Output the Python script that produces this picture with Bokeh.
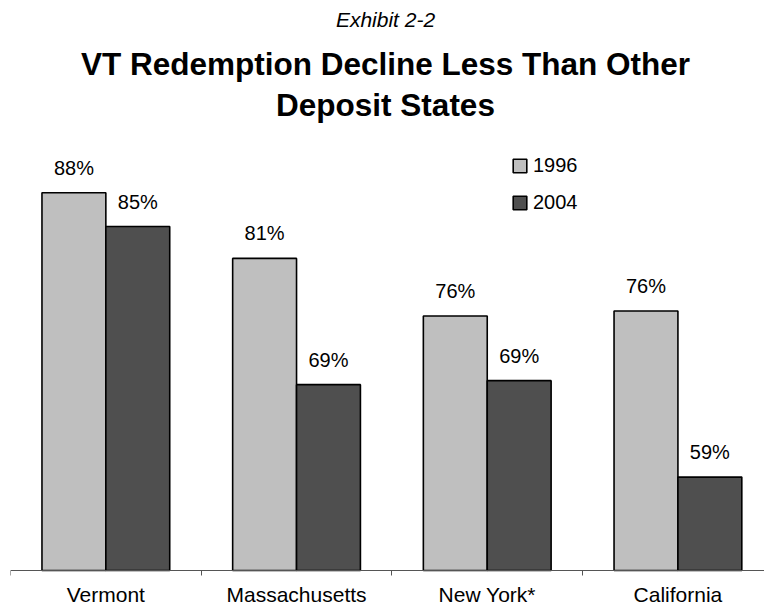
import numpy as np
from bokeh.plotting import figure
from bokeh.models import Range1d, FixedTicker, Label, Legend, LegendItem, ColumnDataSource
from bokeh.transform import dodge
from bokeh.embed import file_html
from bokeh.resources import INLINE
from bokeh.core.properties import value

# ---- data ----
exhibit_label = "Exhibit 2-2"
title_lines = ["VT Redemption Decline Less Than Other", "Deposit States"]
categories = ["Vermont", "Massachusetts", "New York*", "California"]
series_names = ["1996", "2004"]
values_1996 = [88.0, 81.4, 75.6, 76.1]
values_2004 = [84.6, 68.7, 69.1, 59.4]
labels_1996 = ["88%", "81%", "76%", "76%"]
labels_2004 = ["85%", "69%", "69%", "59%"]
axis_min = 50

# ---- styles ----
FONT = "Liberation Sans"
LIGHT = "#bfbfbf"
DARK = "#4f4f4f"
BAR_W = 0.335
OFF = 0.1675

idx = np.arange(len(categories))
src = ColumnDataSource(dict(
    x=idx, cat=categories,
    v1996=values_1996, v2004=values_2004,
    l1996=labels_1996, l2004=labels_2004,
))

W, H = 764, 609
p = figure(width=W, height=H, output_backend="svg", toolbar_location=None, title=None,
           x_range=Range1d(-0.5, 3.454), y_range=Range1d(46.08, 107.34),
           min_border_left=10, min_border_right=0, min_border_top=0, min_border_bottom=0)
p.outline_line_color = None
p.grid.visible = False
p.yaxis.visible = False
p.background_fill_color = "white"
p.border_fill_color = "white"

ax = p.xaxis[0]
ax.fixed_location = axis_min
ax.ticker = FixedTicker(ticks=[], minor_ticks=list(np.arange(-0.5, len(categories) + 0.5, 1.0)))
ax.major_tick_out = 0
ax.major_tick_in = 0
ax.minor_tick_out = 5
ax.minor_tick_in = 0
ax.axis_line_color = "#555555"
ax.minor_tick_line_color = "#555555"
ax.axis_line_width = 1.2
ax.major_label_text_font_size = "0px"

r1 = p.vbar(x=dodge("x", -OFF), top="v1996", bottom=axis_min, width=BAR_W, source=src,
            fill_color=LIGHT, line_color="black", line_width=1.6)
r2 = p.vbar(x=dodge("x", OFF), top="v2004", bottom=axis_min, width=BAR_W, source=src,
            fill_color=DARK, line_color="black", line_width=1.6)

p.text(x=dodge("x", -OFF), y="v1996", text="l1996", source=src, y_offset=-25,
       text_align="center", text_baseline="alphabetic", text_font=value(FONT),
       text_font_size="20px", text_color="black")
p.text(x=dodge("x", OFF), y="v2004", text="l2004", source=src, y_offset=-25,
       text_align="center", text_baseline="alphabetic", text_font=value(FONT),
       text_font_size="20px", text_color="black")

p.text(x="x", y=axis_min, text="cat", source=src, y_offset=24,
       text_align="center", text_baseline="alphabetic", text_font=value(FONT),
       text_font_size="21px", text_color="black")

# titles
p.add_layout(Label(x=375, y=590, x_units="screen", y_units="screen", text=exhibit_label,
                   text_align="center", text_baseline="alphabetic", text_font=FONT,
                   text_font_style="italic", text_font_size="21px", text_color="black"))
for t, yy in zip(title_lines, [546, 505]):
    p.add_layout(Label(x=375, y=yy, x_units="screen", y_units="screen", text=t,
                       text_align="center", text_baseline="alphabetic", text_font=FONT,
                       text_font_style="bold", text_font_size="31.5px", text_color="black"))

legend = Legend(items=[LegendItem(label=series_names[0], renderers=[r1]),
                       LegendItem(label=series_names[1], renderers=[r2])],
                location=(501, 395), padding=0, margin=0, spacing=14,
                glyph_width=17, glyph_height=17, label_standoff=5,
                label_text_font=FONT, label_text_font_size="20px", label_text_color="black",
                border_line_color=None, background_fill_alpha=0)
p.add_layout(legend)

open("out.html", "w").write(file_html(p, INLINE))
